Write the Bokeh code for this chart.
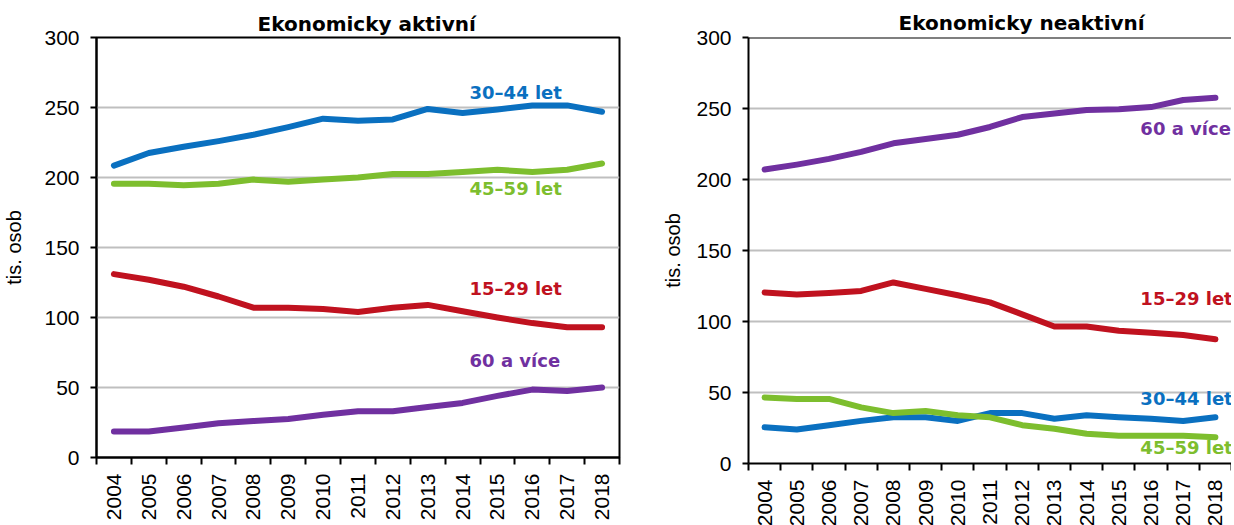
import math
from bokeh.plotting import figure
from bokeh.layouts import row
from bokeh.models import FixedTicker, Range1d, Label, Span
from bokeh.embed import file_html
from bokeh.resources import INLINE

years = ["2004", "2005", "2006", "2007", "2008", "2009", "2010", "2011",
         "2012", "2013", "2014", "2015", "2016", "2017", "2018"]

series_names = ["15–29 let", "30–44 let", "45–59 let", "60 a více"]
series_colors = ["#C0121F", "#0A70C0", "#7DBE2E", "#7030A0"]

akt_15_29 = [131, 127, 122, 115, 107, 107, 106, 104, 107, 109, 104.5, 100, 96, 93, 93]
akt_30_44 = [208.5, 217.5, 222, 226, 230.5, 236, 242, 240.5, 241.5, 249, 246, 248.5, 251.5, 251.5, 247]
akt_45_59 = [195.5, 195.5, 194.5, 195.5, 198.5, 197, 198.5, 200, 202.5, 202.5, 204, 205.5, 204, 205.5, 210]
akt_60 = [18.5, 18.5, 21.5, 24.5, 26, 27.5, 30.5, 33, 33, 36, 39, 44, 48.5, 47.5, 50]

neakt_15_29 = [120.5, 119, 120, 121.5, 127.5, 123, 118.5, 113.5, 105, 96.5, 96.5, 93.5, 92, 90.5, 87.5]
neakt_30_44 = [25.5, 24, 27, 30, 32.5, 32.5, 30, 35.5, 35.5, 31.5, 34, 32.5, 31.5, 30, 32.5]
neakt_45_59 = [46.5, 45.5, 45.5, 39.5, 35.5, 37, 34, 32.5, 27, 24.5, 21, 19.5, 19.5, 19.5, 18.5]
neakt_60 = [207, 210.5, 214.5, 219.5, 225.5, 228.5, 231.5, 237, 244, 246.5, 249, 249.5, 251, 256, 257.5]

y_ticks = [0, 50, 100, 150, 200, 250, 300]

# label anchor positions (category index, value)
akt_label_x = [10.2, 10.2, 10.2, 10.2]
akt_label_y = [121, 261, 192, 69.5]
neakt_label_x = [11.67, 11.67, 11.67, 11.67]
neakt_label_y = [116, 45.7, 11.5, 236]

TICK_FONT = "Liberation Sans"
BOLD_FONT = "DejaVu Sans"


def make_fig(title, series, lab_x, lab_y, width, height, mbl, mbr, mbt, title_offset,
             title_standoff, x_standoff, ylab_standoff, outline):
    idx = list(range(len(years)))
    p = figure(width=width, height=height, output_backend="svg", toolbar_location=None,
               x_range=Range1d(-0.5, len(years) - 0.5), y_range=Range1d(0, 300),
               min_border_left=mbl, min_border_right=mbr, min_border_top=mbt,
               min_border_bottom=0, background_fill_color="white",
               border_fill_color="white")
    p.title.text = title
    p.title.text_font = BOLD_FONT
    p.title.text_font_size = "20px"
    p.title.text_font_style = "bold"
    p.title.text_color = "black"
    p.title.align = "left"
    p.title.offset = title_offset
    p.title.standoff = title_standoff

    if outline:
        p.outline_line_color = "black"
        p.outline_line_width = 2
        p.outline_line_alpha = 1
    else:
        p.outline_line_color = None
        p.add_layout(Span(location=300, dimension="width", line_color="black", line_width=2))

    # grid
    p.xgrid.visible = False
    p.ygrid.ticker = FixedTicker(ticks=y_ticks[1:-1])
    p.ygrid.grid_line_color = "#BFBFBF"
    p.ygrid.grid_line_width = 2

    # y axis
    ya = p.yaxis[0]
    ya.ticker = FixedTicker(ticks=y_ticks)
    ya.axis_line_color = "black"
    ya.axis_line_width = 2
    ya.major_tick_line_color = "black"
    ya.major_tick_line_width = 2
    ya.major_tick_out = 6
    ya.major_tick_in = 0
    ya.minor_tick_line_color = None
    ya.major_label_text_font = TICK_FONT
    ya.major_label_text_font_size = "21px"
    ya.major_label_text_color = "black"
    ya.major_label_standoff = 11
    ya.axis_label = "tis. osob"
    ya.axis_label_text_font = TICK_FONT
    ya.axis_label_text_font_size = "20px"
    ya.axis_label_text_font_style = "normal"
    ya.axis_label_text_color = "black"
    ya.axis_label_standoff = ylab_standoff

    # x axis
    xa = p.xaxis[0]
    xa.ticker = FixedTicker(ticks=idx, minor_ticks=[i - 0.5 for i in range(len(years) + 1)])
    xa.major_label_overrides = {i: y for i, y in enumerate(years)}
    xa.major_label_orientation = math.pi / 2
    xa.major_tick_line_color = None
    xa.major_tick_out = 0
    xa.major_tick_in = 0
    xa.minor_tick_line_color = "black"
    xa.minor_tick_line_width = 2
    xa.minor_tick_out = 7
    xa.minor_tick_in = 0
    xa.axis_line_color = "black"
    xa.axis_line_width = 2
    xa.major_label_text_font = TICK_FONT
    xa.major_label_text_font_size = "21px"
    xa.major_label_text_color = "black"
    xa.major_label_standoff = x_standoff

    for vals, color in zip(series, series_colors):
        p.line(x=idx, y=vals, line_color=color, line_width=6,
               line_cap="round", line_join="round")

    for name, color, lx, ly in zip(series_names, series_colors, lab_x, lab_y):
        p.add_layout(Label(x=lx, y=ly, text=name, text_color=color,
                           text_font=BOLD_FONT, text_font_size="18px",
                           text_font_style="bold", text_baseline="middle",
                           text_align="left"))
    return p


p1 = make_fig("Ekonomicky aktivní", [akt_15_29, akt_30_44, akt_45_59, akt_60],
              akt_label_x, akt_label_y, width=657, height=523, mbl=96, mbr=38, mbt=35,
              title_offset=161, title_standoff=4, x_standoff=9, ylab_standoff=16,
              outline=True)
p2 = make_fig("Ekonomicky neaktivní", [neakt_15_29, neakt_30_44, neakt_45_59, neakt_60],
              neakt_label_x, neakt_label_y, width=574, height=529, mbl=91, mbr=0, mbt=37,
              title_offset=150, title_standoff=6, x_standoff=9, ylab_standoff=9,
              outline=False)

layout = row(p1, p2)
open("out.html", "w").write(file_html(layout, INLINE))
